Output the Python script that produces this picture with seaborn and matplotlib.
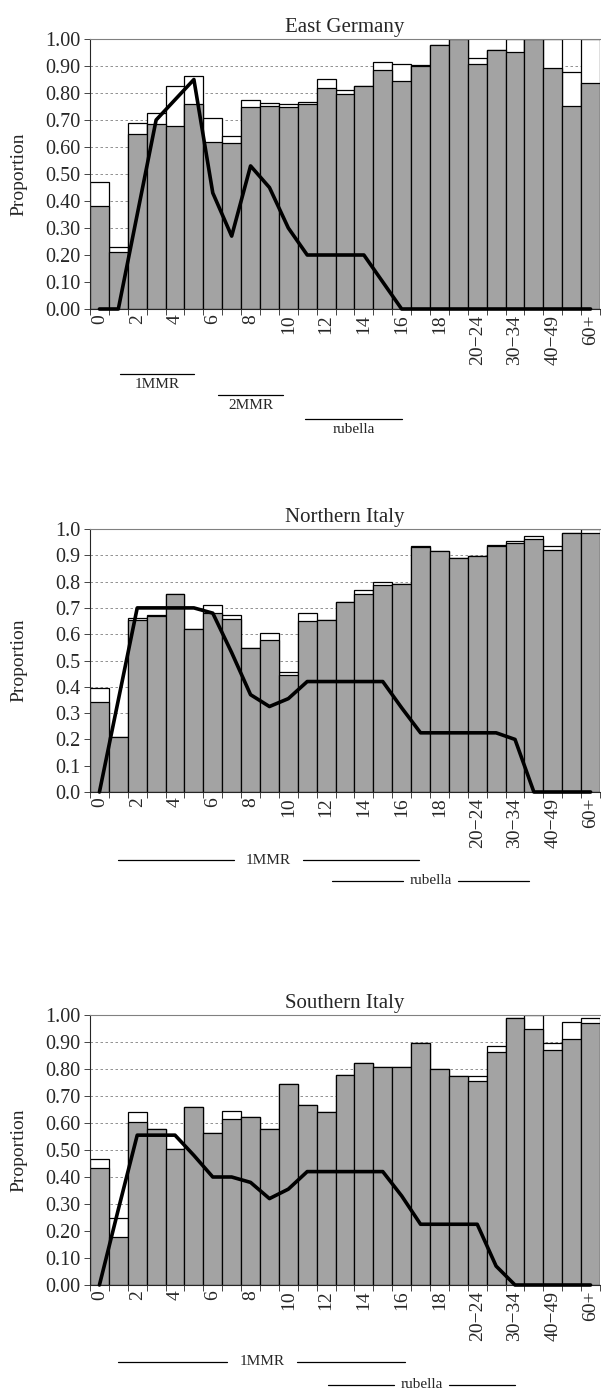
import numpy as np
import seaborn as sns
import matplotlib.pyplot as plt
import matplotlib.transforms as mtransforms

sns.set_style("ticks")
plt.rcParams['font.family'] = ['Liberation Serif', 'DejaVu Serif']

# age groups on the x axis
ages = [str(i) for i in range(20)] + ["20\u221224", "25\u221229", "30\u221234", "35\u221239",
                                      "40\u221249", "50\u221259", "60+"]
tick_labels = [a if i % 2 == 0 else "" for i, a in enumerate(ages)]

# East Germany
eg_total = [0.47, 0.23, 0.69, 0.725, 0.825, 0.862, 0.706, 0.64, 0.774, 0.763, 0.76, 0.768, 0.85, 0.812,
            0.825, 0.916, 0.906, 0.902, 0.978, 1.00, 0.928, 0.959, 1.00, 1.00, 1.00, 0.879, 1.00]
eg_gray = [0.38, 0.21, 0.648, 0.685, 0.677, 0.758, 0.62, 0.615, 0.748, 0.75, 0.748, 0.758, 0.82, 0.796,
           0.825, 0.886, 0.845, 0.90, 0.977, 1.00, 0.907, 0.958, 0.95, 1.00, 0.891, 0.75, 0.837]
eg_line = [0.0, 0.0, 0.35, 0.70, 0.775, 0.85, 0.43, 0.27, 0.53, 0.45, 0.30, 0.20, 0.20, 0.20,
           0.20, 0.10, 0.0, 0.0, 0.0, 0.0, 0.0, 0.0, 0.0, 0.0, 0.0, 0.0, 0.0]

# Northern Italy
ni_total = [0.397, 0.211, 0.66, 0.672, 0.752, 0.62, 0.71, 0.672, 0.547, 0.606, 0.457, 0.681, 0.653, 0.724,
            0.768, 0.80, 0.79, 0.935, 0.915, 0.89, 0.896, 0.94, 0.953, 0.973, 0.935, 0.983, 1.00]
ni_gray = [0.344, 0.211, 0.655, 0.671, 0.752, 0.62, 0.682, 0.658, 0.547, 0.577, 0.446, 0.652, 0.653, 0.724,
           0.752, 0.787, 0.79, 0.932, 0.915, 0.89, 0.896, 0.935, 0.945, 0.963, 0.92, 0.983, 0.983]
ni_line = [0.0, 0.35, 0.70, 0.70, 0.70, 0.70, 0.68, 0.53, 0.37, 0.325, 0.355, 0.42, 0.42, 0.42,
           0.42, 0.42, 0.32, 0.225, 0.225, 0.225, 0.225, 0.225, 0.20, 0.0, 0.0, 0.0, 0.0]

# Southern Italy
si_total = [0.468, 0.248, 0.639, 0.577, 0.502, 0.658, 0.564, 0.645, 0.624, 0.577, 0.743, 0.668, 0.639, 0.779,
            0.822, 0.807, 0.807, 0.898, 0.799, 0.774, 0.775, 0.884, 0.989, 1.00, 0.895, 0.973, 0.988]
si_gray = [0.434, 0.176, 0.604, 0.577, 0.502, 0.658, 0.564, 0.614, 0.624, 0.577, 0.743, 0.668, 0.639, 0.779,
           0.822, 0.807, 0.807, 0.898, 0.799, 0.774, 0.755, 0.864, 0.989, 0.95, 0.870, 0.91, 0.97]
si_line = [0.0, 0.28, 0.555, 0.555, 0.555, 0.48, 0.40, 0.40, 0.38, 0.32, 0.355, 0.42, 0.42, 0.42,
           0.42, 0.42, 0.33, 0.225, 0.225, 0.225, 0.225, 0.07, 0.0, 0.0, 0.0, 0.0, 0.0]

# vaccination cohorts (age spans) shown under each panel
eg_cohorts = [("1MMR", 1.1, 5.0), ("2MMR", 6.3, 9.7), ("rubella", 10.9, 16.0)]
ni_cohorts = [("1MMR", 1.0, 16.9), ("rubella", 12.3, 22.75)]
si_cohorts = [("1MMR", 1.0, 16.2), ("rubella", 12.1, 22.0)]

fig = plt.figure(figsize=(6.01, 13.95), dpi=100)
W, H = 601, 1395


def make_ax(top, bottom):
    return fig.add_axes([90 / W, 1 - bottom / H, 510 / W, (bottom - top) / H])


def draw_panel(ax, title, total, gray, line, fmt):
    sns.barplot(x=ages, y=total, order=ages, color="white", edgecolor="black", linewidth=0.9,
                width=1.0, saturation=1, errorbar=None, ax=ax)
    sns.barplot(x=ages, y=gray, order=ages, color="#a3a3a3", edgecolor="black", linewidth=0.9,
                width=1.0, saturation=1, errorbar=None, ax=ax)
    sns.lineplot(x=np.arange(len(ages)), y=line, color="black", linewidth=2.6, ax=ax, clip_on=False, zorder=5)
    ax.set_xlim(-0.5, len(ages) - 0.5)
    ax.set_ylim(0, 1.0)
    yt = np.round(np.arange(0, 1.01, 0.1), 2)
    ax.set_yticks(yt)
    ax.set_yticklabels([fmt.format(v) for v in yt], fontsize=14.5)
    ax.yaxis.grid(True, linestyle=(0, (3, 3)), color="#808080", linewidth=0.6)
    ax.set_axisbelow(True)
    ax.set_xticks(np.arange(len(ages)))
    ax.set_xticklabels(tick_labels, rotation=90, fontsize=14)
    ax.set_xticks(np.arange(-0.5, len(ages), 1), minor=True)
    ax.tick_params(axis="x", which="major", length=0, pad=4)
    ax.tick_params(axis="x", which="minor", length=4, width=0.6)
    ax.tick_params(axis="y", length=4, width=0.6, pad=3)
    ax.set_xlabel("")
    ax.set_ylabel("Proportion", fontsize=14)
    ax.yaxis.set_label_coords(-0.122, 0.5)
    ax.set_title(title, fontsize=15, pad=5)
    ax.spines["right"].set_visible(False)
    ax.spines["top"].set_color("#808080")
    ax.spines["top"].set_linewidth(0.8)
    for s in ["left", "bottom"]:
        ax.spines[s].set_linewidth(0.8)


# East Germany: labels sit under their lines
ax1 = make_ax(39, 309)
draw_panel(ax1, "East Germany", eg_total, eg_gray, eg_line, "{:.2f}")
tr = mtransforms.blended_transform_factory(ax1.transData, ax1.transAxes)
for (name, a, b), ly in zip(eg_cohorts, [-0.241, -0.319, -0.407]):
    ax1.plot([a, b], [ly, ly], color="black", lw=0.9, transform=tr, clip_on=False)
    ax1.text((a + b) / 2, ly - 0.04, name, transform=tr, ha="center", va="center", fontsize=11)

ax2 = make_ax(529, 792)
draw_panel(ax2, "Northern Italy", ni_total, ni_gray, ni_line, "{:.1f}")
ax3 = make_ax(1015, 1285)
draw_panel(ax3, "Southern Italy", si_total, si_gray, si_line, "{:.2f}")

# Italy panels: labels break their lines
gaps = {"1MMR": 1.85, "rubella": 1.45}
for ax, cohorts, ys in [(ax2, ni_cohorts, [-0.259, -0.338]), (ax3, si_cohorts, [-0.285, -0.370])]:
    tr = mtransforms.blended_transform_factory(ax.transData, ax.transAxes)
    for (name, a, b), ly in zip(cohorts, ys):
        mid = (a + b) / 2
        half = gaps[name]
        ax.plot([a, mid - half], [ly, ly], color="black", lw=0.9, transform=tr, clip_on=False)
        ax.plot([mid + half, b], [ly, ly], color="black", lw=0.9, transform=tr, clip_on=False)
        ax.text(mid, ly, name, transform=tr, ha="center", va="center", fontsize=11)

fig.savefig("out.png", dpi=100)
